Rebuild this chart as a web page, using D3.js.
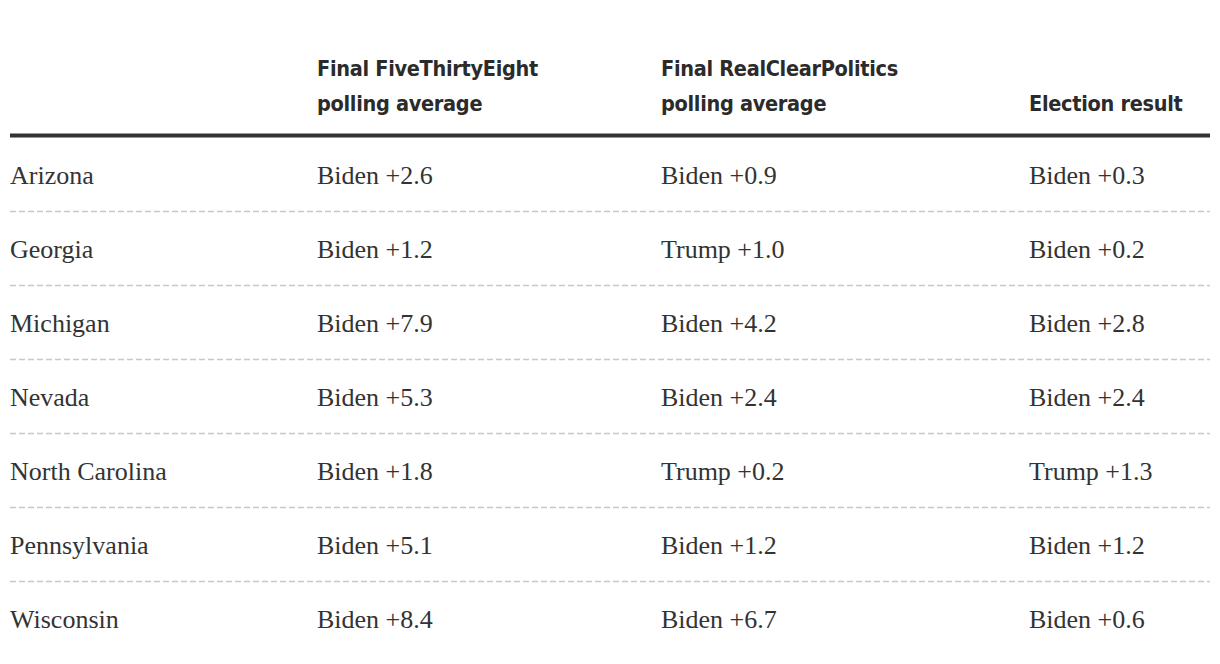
<!DOCTYPE html>
<html><head><meta charset="utf-8">
<script src="https://cdn.jsdelivr.net/npm/d3@7"></script>
<style>
html,body{margin:0;padding:0;background:#fff;}
.hdr{font-family:"DejaVu Sans Condensed","Liberation Sans Narrow","Roboto",sans-serif;font-weight:bold;font-size:21.5px;letter-spacing:-0.3px;fill:#2b2b2b;}
.cell{font-family:"Liberation Serif","DejaVu Serif",serif;font-size:26px;fill:#333;}
</style></head>
<body><svg id="c" width="1220" height="664"></svg>
<script>
const states = ["Arizona","Georgia","Michigan","Nevada","North Carolina","Pennsylvania","Wisconsin"];
const fiveThirtyEight = ["Biden +2.6","Biden +1.2","Biden +7.9","Biden +5.3","Biden +1.8","Biden +5.1","Biden +8.4"];
const realClearPolitics = ["Biden +0.9","Trump +1.0","Biden +4.2","Biden +2.4","Trump +0.2","Biden +1.2","Biden +6.7"];
const electionResult = ["Biden +0.3","Biden +0.2","Biden +2.8","Biden +2.4","Trump +1.3","Biden +1.2","Biden +0.6"];
const headers = [[], ["Final FiveThirtyEight","polling average"], ["Final RealClearPolitics","polling average"], ["Election result"]];

const svg = d3.select("#c");
const cols = [0,1,2,3];
const x = d3.scaleOrdinal().domain(cols).range([10,317,661,1029]);
const y = d3.scaleBand().domain(states).range([137,655]).padding(0);
const columns = [states, fiveThirtyEight, realClearPolitics, electionResult];

headers.forEach((lines,i)=>{
  lines.forEach((t,j)=>{
    const n = lines.length;
    svg.append("text").attr("class","hdr")
      .attr("x", x(i)).attr("y", 111 - (n-1-j)*35)
      .text(t);
  });
});

svg.append("line").attr("x1",10).attr("x2",1210).attr("y1",135.5).attr("y2",135.5)
  .attr("stroke","#333").attr("stroke-width",4);

svg.selectAll("line.sep").data(states.slice(1)).enter().append("line")
  .attr("class","sep").attr("x1",10).attr("x2",1210)
  .attr("y1",d=>Math.round(y(d))+0.5).attr("y2",d=>Math.round(y(d))+0.5)
  .attr("stroke","#c8c8c8").attr("stroke-width",1.3).attr("stroke-dasharray","6,3");

columns.forEach((arr,i)=>{
  svg.selectAll("text.c"+i).data(arr).enter().append("text")
    .attr("class","cell c"+i)
    .attr("x", x(i))
    .attr("y",(d,k)=>y(states[k]) + y.bandwidth()/2 + 9.5)
    .text(d=>d);
});
</script></body></html>
